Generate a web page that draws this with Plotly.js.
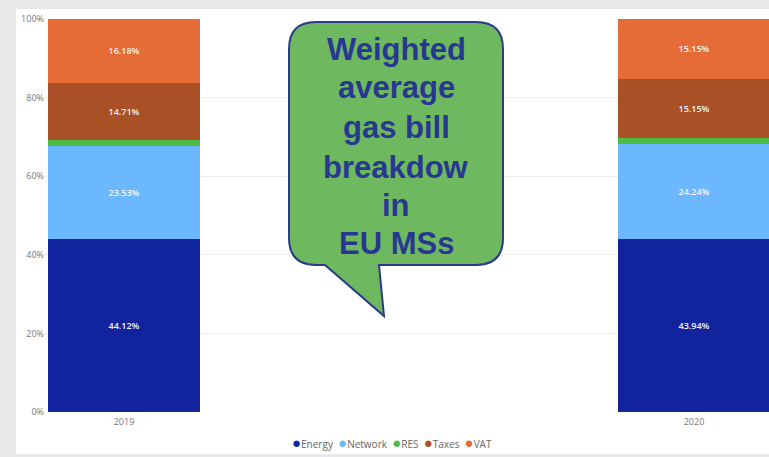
<!DOCTYPE html>
<html>
<head>
<meta charset="utf-8">
<script src="https://cdn.plot.ly/plotly-3.0.1.min.js"></script>
<style>html,body{margin:0;padding:0;background:#e8e8e8;}#chart{width:769px;height:457px;}</style>
</head>
<body>
<div id="chart"></div>
<script>
const categories = ['2019', '2020'];
const seriesNames = ['Energy', 'Network', 'RES', 'Taxes', 'VAT'];
const energy = [44.12, 43.94];
const network = [23.53, 24.24];
const res = [1.47, 1.52];
const taxes = [14.71, 15.15];
const vat = [16.18, 15.15];
const seriesColors = ['#12239E', '#6CB8FF', '#4FBB47', '#AA5027', '#E66C37'];
const yTickVals = [0, 20, 40, 60, 80, 100];
const yTickText = ['0%', '20%', '40%', '60%', '80%', '100%'];
const calloutLines = ['Weighted', 'average', 'gas bill', 'breakdow', 'in', 'EU MSs'];

const W = 769, H = 457;
const M = {l: 45, r: 0, t: 19, b: 45};
const PW = W - M.l - M.r, PH = H - M.t - M.b;
const px = x => (x - M.l) / PW;
const py = y => (H - M.b - y) / PH;
const P = (x, y) => px(x).toFixed(5) + ',' + py(y).toFixed(5);

const allSeries = [energy, network, res, taxes, vat];
const traces = allSeries.map((vals, i) => ({
  type: 'bar',
  name: seriesNames[i],
  x: categories,
  y: vals,
  width: 0.2667,
  marker: {color: seriesColors[i], line: {width: 0}},
  text: vals.map(v => v.toFixed(2) + '%'),
  textposition: seriesNames[i] === 'RES' ? 'none' : 'inside',
  insidetextanchor: 'middle',
  textfont: {color: '#f4f4f4', size: 9, family: 'Open Sans, sans-serif', weight: 600},
  hoverinfo: 'none',
  showlegend: false
}));

// callout bubble
const L = 289, R = 503, T = 22, B = 265, r = 27;
const path = 'M' + P(L + r, T) + ' L' + P(R - r, T) + ' Q' + P(R, T) + ' ' + P(R, T + r) +
  ' L' + P(R, B - r) + ' Q' + P(R, B) + ' ' + P(R - r, B) +
  ' L' + P(379, B) + ' L' + P(384, 316) + ' L' + P(325, B) +
  ' L' + P(L + r, B) + ' Q' + P(L, B) + ' ' + P(L, B - r) +
  ' L' + P(L, T + r) + ' Q' + P(L, T) + ' ' + P(L + r, T) + ' Z';

const lineY = [49, 88, 128, 167, 205, 243];
const annotations = calloutLines.map((t, i) => ({
  xref: 'paper', yref: 'paper', x: px(396), y: py(lineY[i]),
  xanchor: 'center', yanchor: 'middle', showarrow: false,
  text: '<b>' + t + '</b>',
  font: {family: 'Liberation Sans, Arial, sans-serif', size: 31, color: '#283891'}
}));

const legendText = seriesNames.map((n, i) =>
  '<span style="color:' + seriesColors[i] + ';font-size:15px">●</span>' + n).join('  ');
annotations.push({
  xref: 'paper', yref: 'paper', x: px(392), y: py(442),
  xanchor: 'center', yanchor: 'middle', showarrow: false,
  text: legendText,
  font: {family: 'Open Sans, sans-serif', size: 10, color: '#666666'}
});

const layout = {
  width: W, height: H,
  margin: M,
  paper_bgcolor: '#e8e8e8',
  plot_bgcolor: 'rgba(0,0,0,0)',
  barmode: 'stack',
  showlegend: false,
  font: {family: 'Open Sans, sans-serif', color: '#777777'},
  xaxis: {
    type: 'category',
    range: [(M.l - 124) / 570, (M.l - 124) / 570 + PW / 570],
    showgrid: false, zeroline: false, showline: false, ticks: '',
    ticklabelstandoff: 3,
    tickfont: {size: 9, color: '#777777'}
  },
  yaxis: {
    range: [0, 100],
    tickvals: yTickVals, ticktext: yTickText,
    showgrid: true, gridcolor: '#ededed', gridwidth: 1,
    zeroline: false, showline: false, ticks: '',
    tickfont: {size: 9, color: '#777777'}
  },
  shapes: [
    {type: 'rect', xref: 'paper', yref: 'paper', x0: px(16), x1: px(780), y0: py(454), y1: py(9),
     fillcolor: '#ffffff', line: {width: 0}, layer: 'below'},
    {type: 'path', xref: 'paper', yref: 'paper', path: path,
     fillcolor: '#6EB860', line: {color: '#2B3A8A', width: 2}, layer: 'above'}
  ],
  annotations: annotations
};

Plotly.newPlot('chart', traces, layout, {displayModeBar: false, staticPlot: true});
</script>
</body>
</html>
